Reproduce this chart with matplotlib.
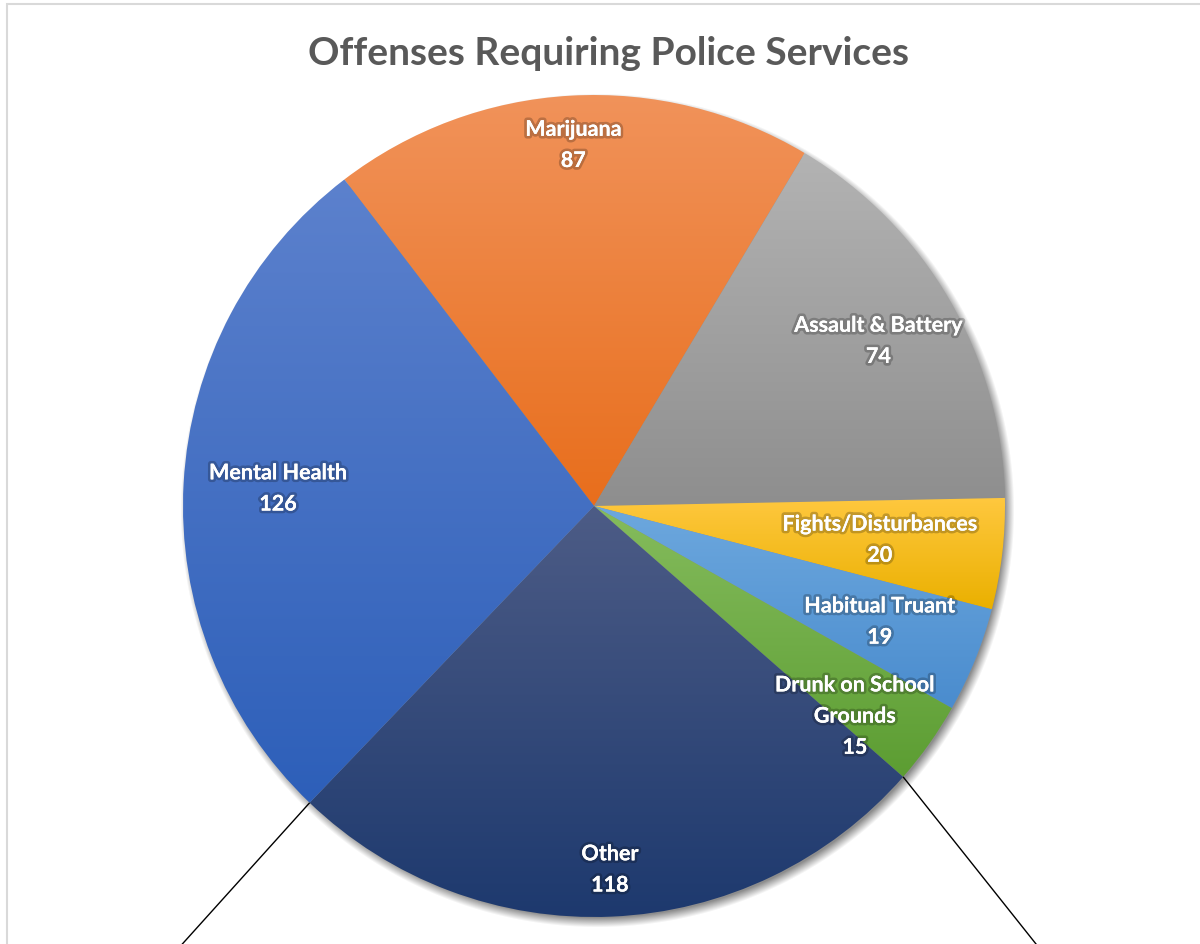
import numpy as np
import matplotlib
matplotlib.use("Agg")
import matplotlib.pyplot as plt
import matplotlib.patheffects as pe
from matplotlib.colors import to_rgb
from matplotlib.patches import Rectangle

# Offense categories, clockwise from the top
categories = ["Marijuana", "Assault & Battery", "Fights/Disturbances",
              "Habitual Truant", "Drunk on School\nGrounds", "Other", "Mental Health"]
counts = [87, 74, 20, 19, 15, 118, 126]

# gradient colours per slice (top -> bottom)
top_colors = ["#F1935B", "#B3B3B3", "#FFC83F", "#6DA8DE", "#85BC5D", "#4D5C86", "#5C81CD"]
bottom_colors = ["#E86E1C", "#8E8E8E", "#EAB000", "#4A8CCE", "#5C9D32", "#1D396E", "#2D5FB9"]
# label placement: fraction of the radius and angular nudge (degrees)
label_radius = [0.88, 0.80, 0.70, 0.75, 0.815, 0.885, 0.77]
label_nudge = [0, 0, 0, 0, -3.5, 0, 0]

W, H = 1200, 945
fig = plt.figure(figsize=(W / 100, H / 100), dpi=100)
ax = fig.add_axes([0, 0, 1, 1])

cx, cy, R = 594, H - 507, 411

# chart-area frame
ax.add_patch(Rectangle((7, -20), W + 40, H - 5 + 20, fill=False,
                       edgecolor="#D9D9D9", linewidth=1.5, zorder=0))

# soft drop shadow under the pie
yy, xx = np.mgrid[0:H, 0:W]
d = np.hypot(xx - (cx + 3), (H - yy) - (cy - 4))
alpha = np.clip((R + 6 - d) / 10.0, 0, 1) * 0.45
shadow = np.zeros((H, W, 4))
shadow[..., 3] = alpha
ax.imshow(shadow, extent=(0, W, 0, H), origin="upper", zorder=1, interpolation="bilinear")

wedges, _ = ax.pie(counts, startangle=127.4, counterclock=False, radius=R,
                   center=(cx, cy), frame=True,
                   wedgeprops=dict(linewidth=0, edgecolor="none"))
ax.set_xlim(0, W)
ax.set_ylim(0, H)
ax.set_aspect("equal")
ax.axis("off")

# gradient fills clipped to each wedge
for w, c0, c1 in zip(wedges, top_colors, bottom_colors):
    w.set_facecolor("none")
    verts = w.get_path().vertices
    x0, x1 = verts[:, 0].min(), verts[:, 0].max()
    y0, y1 = verts[:, 1].min(), verts[:, 1].max()
    t = np.linspace(0, 1, 256)[:, None]
    grad = (1 - t) * np.array(to_rgb(c0)) + t * np.array(to_rgb(c1))
    img = np.repeat(grad[:, None, :], 2, axis=1)
    im = ax.imshow(img, extent=(x0, x1, y0, y1), origin="upper",
                   aspect="auto", zorder=2, interpolation="bilinear")
    im.set_clip_path(w)

# connector lines leading out of the "Other" slice
other = wedges[categories.index("Other")]
for ang, direction in ((other.theta1, (-128, -142)), (other.theta2, (132, -166))):
    sx = cx + R * np.cos(np.radians(ang))
    sy = cy + R * np.sin(np.radians(ang))
    k = (sy + 40) / -direction[1]
    ax.plot([sx, sx + direction[0] * k], [sy, sy + direction[1] * k],
            color="black", linewidth=1.0, zorder=3, solid_capstyle="butt")

# data labels
fx = [pe.withStroke(linewidth=4, foreground=(0, 0, 0, 0.22)), pe.Normal()]
for w, name, val, rf, nd in zip(wedges, categories, counts, label_radius, label_nudge):
    mid = np.radians((w.theta1 + w.theta2) / 2 + nd)
    lx = cx + rf * R * np.cos(mid)
    ly = cy + rf * R * np.sin(mid)
    ax.text(lx, ly, f"{name}\n{val}", ha="center", va="center", color="white",
            fontsize=15.5, fontweight="bold", family="Lato", linespacing=1.6,
            zorder=5, path_effects=fx)

ax.text(608, H - 54, "Offenses Requiring Police Services", ha="center", va="center",
        color="#595959", fontsize=28, fontweight="bold", family="Lato", zorder=5)

fig.savefig("out.png", dpi=100)
